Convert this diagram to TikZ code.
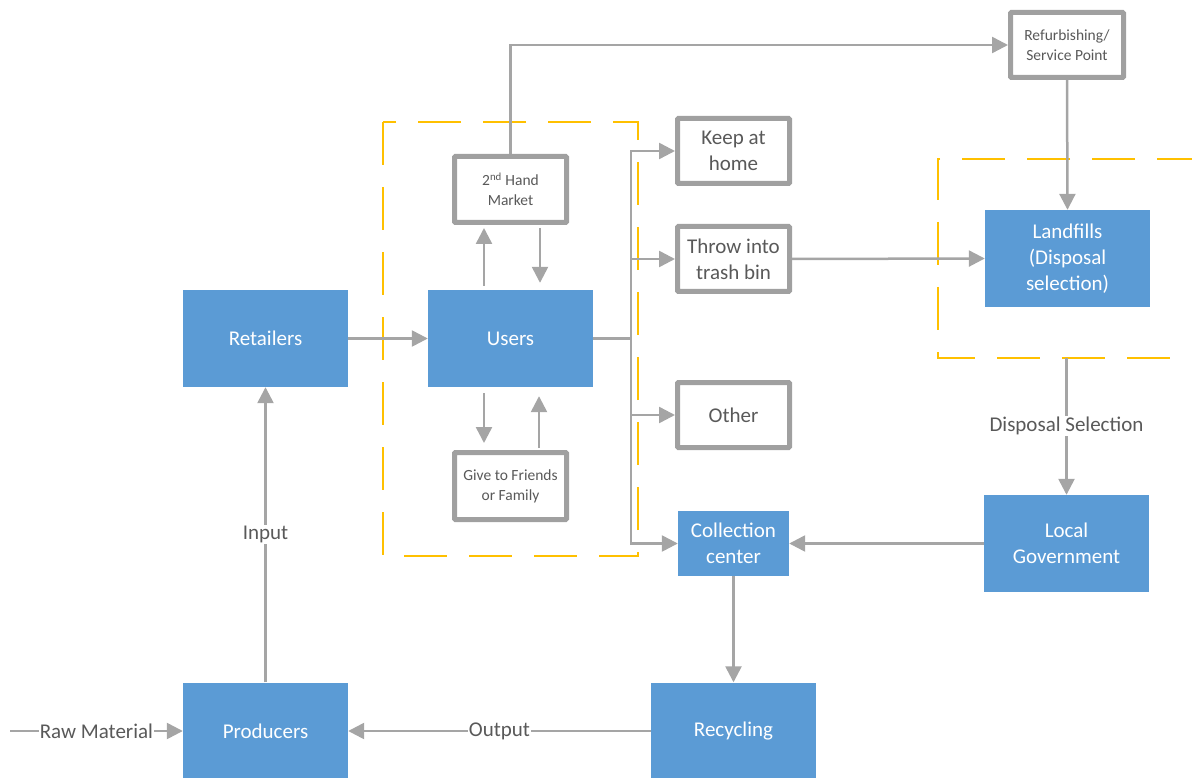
\documentclass[tikz,border=0pt]{standalone}
\usepackage{fontspec}
\setmainfont{Carlito}
\usetikzlibrary{arrows.meta}
\definecolor{myblue}{HTML}{5B9BD5}
\definecolor{linegray}{HTML}{A5A5A5}
\definecolor{boxgray}{HTML}{A0A0A0}
\definecolor{txtgray}{HTML}{595959}
\definecolor{myorange}{HTML}{FFC000}
\tikzset{
  bluebox/.style={fill=myblue, text=white, minimum width=165pt, minimum height=97pt, inner sep=0pt, align=center, font=\fontsize{21}{26}\selectfont},
  graybox/.style={draw=boxgray, line width=5pt, fill=white, text=txtgray, align=center, inner sep=0pt, rounded corners=1pt, minimum width=112pt, minimum height=65pt, font=\fontsize{21}{26}\selectfont},
  smallbox/.style={graybox, font=\fontsize{15.5}{20}\selectfont},
  conn/.style={draw=linegray, line width=2.5pt, -{Triangle[length=16pt,width=16pt]}},
  plainline/.style={draw=linegray, line width=2.5pt},
  lbl/.style={fill=white, text=txtgray, inner sep=1pt, font=\fontsize{21}{26}\selectfont},
  dashbox/.style={draw=myorange, line width=2.5pt, dash pattern=on 43pt off 22pt},
}
\begin{document}
\begin{tikzpicture}[x=1pt,y=-1pt]
\useasboundingbox (0,0) rectangle (1192,778);
% dashed regions
\draw[dashbox] (383,122) rectangle (638,556);
\draw[dashbox] (1200,159) -- (938,159) -- (938,358) -- (1200,358);
\coordinate (dsel) at (1066.5,358);
% blue nodes
\node[bluebox] (retail) at (265.5,338.5) {Retailers};
\node[bluebox] (users) at (510.5,338.5) {Users};
\node[bluebox] (prod) at (265.5,731) {Producers};
\node[bluebox] (recyc) at (733.5,731) {Recycling};
\node[bluebox, minimum width=111pt, minimum height=65pt] (coll) at (733.5,543.5) {Collection\\center};
\node[bluebox] (gov) at (1066.5,543.5) {Local\\Government};
\node[bluebox] (land) at (1067.5,258.5) {Landfills\\(Disposal\\selection)};
% gray boxes
\node[smallbox, minimum width=113pt] (refurb) at (1067,45) {Refurbishing/\\Service Point};
\node[smallbox, minimum height=66pt] (market) at (510.5,189.5) {2\textsuperscript{nd} Hand\\Market};
\node[smallbox, minimum height=67pt] (give) at (510.5,486) {Give to Friends\\or Family};
\node[graybox] (keep) at (733.5,151) {Keep at\\home};
\node[graybox] (trash) at (733.5,259) {Throw into\\trash bin};
\node[graybox] (other) at (733.5,415) {Other};
\coordinate (raw) at (10,731);
\coordinate (j) at (631,338.5);
% connectors
\draw[conn] (raw) -- node[lbl]{Raw Material} (prod.west);
\draw[conn] (recyc.west) -- node[lbl]{Output} (prod.east);
\draw[conn] (prod.north) -- node[lbl]{Input} (retail.south);
\draw[conn] (retail.east) -- (users.west);
\draw[conn] (coll.south) -- (recyc.north);
\draw[conn] (gov.west) -- (coll.east);
\draw[conn] (dsel) -- node[lbl]{Disposal Selection} (gov.north);
\draw[conn] (refurb.south) -- (land.north);
\draw[conn] (trash.east) -- (land.west);
\draw[conn] (market.north) |- (refurb.west);
\draw[conn] ([xshift=-26.5pt,yshift=4pt]users.north) -- ([xshift=-26.5pt,yshift=-3pt]market.south);
\draw[conn] ([xshift=29.5pt,yshift=-3pt]market.south) -- ([xshift=29.5pt,yshift=7pt]users.north);
\draw[conn] ([xshift=-26.5pt,yshift=-6pt]users.south) -- ([xshift=-26.5pt,yshift=7pt]give.north);
\draw[conn] ([xshift=28.5pt,yshift=2pt]give.north) -- ([xshift=28.5pt,yshift=-9pt]users.south);
\draw[plainline] (users.east) -- (j);
\draw[conn] (j) |- (keep.west);
\draw[conn] (j) |- (trash.west);
\draw[conn] (j) |- (other.west);
\draw[conn] (j) |- (coll.west);
\end{tikzpicture}
\end{document}
